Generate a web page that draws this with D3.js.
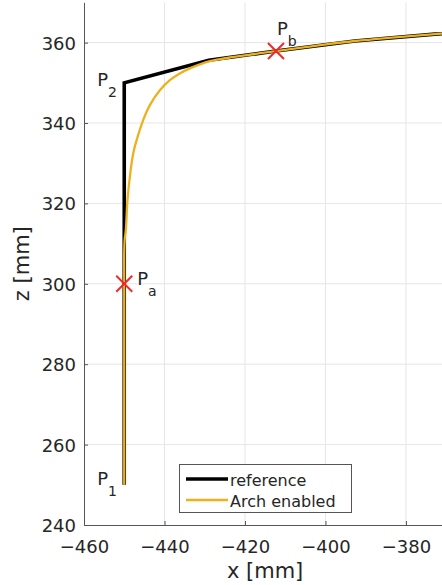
<!DOCTYPE html>
<html>
<head>
<meta charset="utf-8">
<script src="https://cdn.jsdelivr.net/npm/d3@7"></script>
<style>
  html, body { margin: 0; padding: 0; background: #fff; }
  svg { display: block; font-family: "DejaVu Sans", sans-serif; }
</style>
</head>
<body>
<svg id="chart" width="442" height="585"></svg>
<script>
// Reference path (black): straight down-leg P1→P2, then the upper track
const refX = [-450, -450, -429, -412.3, -392.7, -372.8, -352.9];
const refZ = [250, 350, 355.6, 357.9, 360.4, 362.1, 363.3];

// Path with arch blending enabled (orange)
const archX = [-450, -450, -450, -449.9, -449.6, -449.2, -448.4, -447.7, -446.9, -445.3, -443.6,
               -441.1, -438.6, -436.1, -433.7, -431.2, -428.7, -426.2, -423.7, -418, -412.3,
               -402.5, -392.7, -382.7, -372.8, -362.9];
const archZ = [250, 300, 308, 310.9, 313.4, 320.8, 328.3, 332.8, 335.8, 340.7, 344.5,
               348.2, 350.7, 352.4, 353.6, 354.6, 355.4, 355.9, 356.3, 357.1, 357.9,
               359.2, 360.4, 361.3, 362.1, 362.8];

// Labelled points
const pointNames = ["1", "2", "a", "b"];
const pointX = [-450, -450, -450, -412.3];
const pointZ = [250, 350, 300, 357.9];
const crossNames = ["a", "b"];

// Axis ticks
const xTicks = [-460, -440, -420, -400, -380];
const zTicks = [240, 260, 280, 300, 320, 340, 360];

const seriesNames = ["reference", "Arch enabled"];
const seriesColors = ["#000000", "#EDB120"];

const svg = d3.select("#chart");
const plotL = 84, plotR = 446.2, plotT = 2.4, plotB = 525;

const x = d3.scaleLinear().domain([-460, -370]).range([plotL, plotR]);
const y = d3.scaleLinear().domain([240, 370]).range([plotB, plotT]);

const txt = "#262626";
const fmt = d => d < 0 ? "\u2212" + Math.abs(d) : String(d);

svg.append("defs").append("clipPath").attr("id", "plot")
  .append("rect").attr("x", plotL).attr("y", plotT)
  .attr("width", plotR - plotL).attr("height", plotB - plotT);

// grid
const grid = svg.append("g");
grid.selectAll(".gx").data(xTicks.slice(1)).join("line")
  .attr("x1", d => x(d)).attr("x2", d => x(d))
  .attr("y1", plotT).attr("y2", plotB)
  .attr("stroke", "#e6e6e6").attr("stroke-width", 1);
grid.selectAll(".gy").data(zTicks.slice(1)).join("line")
  .attr("x1", plotL).attr("x2", plotR)
  .attr("y1", d => y(d)).attr("y2", d => y(d))
  .attr("stroke", "#e6e6e6").attr("stroke-width", 1);

// axes
const xAxis = svg.append("g").attr("transform", `translate(0,${plotB})`)
  .call(d3.axisBottom(x).tickValues(xTicks).tickSizeInner(-4).tickSizeOuter(0).tickPadding(10).tickFormat(fmt));
const yAxis = svg.append("g").attr("transform", `translate(${plotL},0)`)
  .call(d3.axisLeft(y).tickValues(zTicks).tickSizeInner(-4).tickSizeOuter(0).tickPadding(8).tickFormat(fmt));
[xAxis, yAxis].forEach(a => {
  a.select(".domain").attr("stroke", "#555").attr("stroke-width", 1);
  a.selectAll(".tick line").attr("stroke", "#555");
  a.selectAll(".tick text").attr("fill", txt).attr("font-size", 18)
    .attr("font-family", "DejaVu Sans, sans-serif");
});
xAxis.selectAll(".tick text").attr("dy", null).attr("y", 28);
yAxis.selectAll(".tick text").attr("dy", "0.36em");

// axis titles
svg.append("text").attr("x", (plotL + plotR) / 2).attr("y", 578)
  .attr("text-anchor", "middle").attr("font-size", 21).attr("fill", txt).text("x [mm]");
svg.append("text").attr("transform", `translate(29,${(plotT + plotB) / 2}) rotate(-90)`)
  .attr("text-anchor", "middle").attr("font-size", 21).attr("fill", txt).text("z [mm]");

// paths
const plot = svg.append("g").attr("clip-path", "url(#plot)");
const refLine = d3.line().x(d => x(d[0])).y(d => y(d[1]));
const archLine = d3.line().x(d => x(d[0])).y(d => y(d[1])).curve(d3.curveCatmullRom);

plot.append("path").datum(d3.zip(refX, refZ)).attr("d", refLine)
  .attr("fill", "none").attr("stroke", seriesColors[0]).attr("stroke-width", 3.6)
  .attr("stroke-linejoin", "miter");
plot.append("path").datum(d3.zip(archX, archZ)).attr("d", archLine)
  .attr("fill", "none").attr("stroke", seriesColors[1]).attr("stroke-width", 2.3);

// crosses at Pa and Pb
const cs = 8;
crossNames.forEach(n => {
  const i = pointNames.indexOf(n);
  const cx = x(pointX[i]), cy = y(pointZ[i]);
  svg.append("path")
    .attr("d", `M${cx - cs},${cy - cs}L${cx + cs},${cy + cs}M${cx - cs},${cy + cs}L${cx + cs},${cy - cs}`)
    .attr("stroke", "#ee2a2a").attr("stroke-width", 2).attr("fill", "none");
});

// point labels
const labelOffset = { "1": [-27, 0], "2": [-27, 3], "a": [13, 1], "b": [1, -16] };
pointNames.forEach((n, i) => {
  const [dx, dy] = labelOffset[n];
  const t = svg.append("text")
    .attr("x", x(pointX[i]) + dx).attr("y", y(pointZ[i]) + dy)
    .attr("font-size", 18).attr("fill", txt);
  t.append("tspan").text("P");
  t.append("tspan").attr("dx", 0).attr("dy", 11).attr("font-size", 14).text(n);
});

// legend
const lg = svg.append("g");
lg.append("rect").attr("x", 179.5).attr("y", 464.5).attr("width", 172).attr("height", 48)
  .attr("fill", "#fff").attr("stroke", "#555").attr("stroke-width", 1);
seriesNames.forEach((s, i) => {
  const ly = 479 + i * 21;
  lg.append("line").attr("x1", 186).attr("x2", 228).attr("y1", ly).attr("y2", ly)
    .attr("stroke", seriesColors[i]).attr("stroke-width", i === 0 ? 3.6 : 2.3);
  lg.append("text").attr("x", 230).attr("y", ly + 6.5)
    .attr("font-size", 16).attr("fill", txt).text(s);
});
</script>
</body>
</html>
